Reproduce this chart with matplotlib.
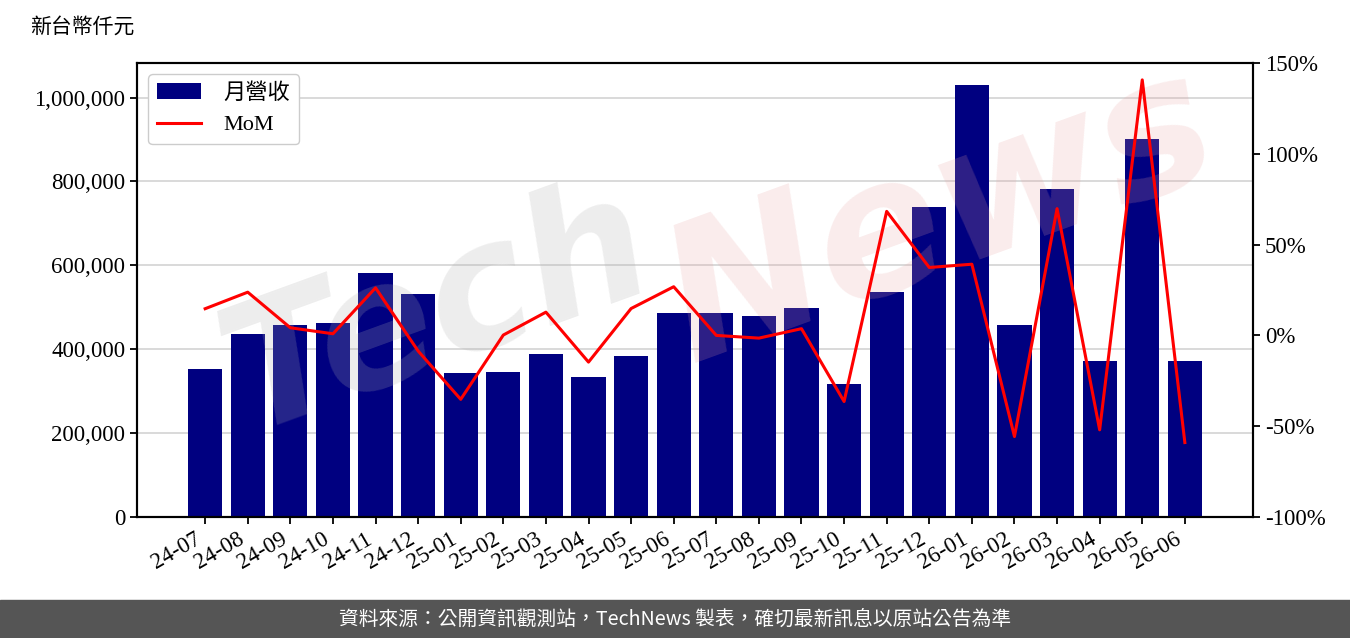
import numpy as np
import matplotlib
matplotlib.use("Agg")
import matplotlib.pyplot as plt
from matplotlib.ticker import FuncFormatter

plt.rcParams['font.family'] = ['Liberation Serif', 'Noto Sans CJK TC']

months = ["24-07", "24-08", "24-09", "24-10", "24-11", "24-12",
          "25-01", "25-02", "25-03", "25-04", "25-05", "25-06",
          "25-07", "25-08", "25-09", "25-10", "25-11", "25-12",
          "26-01", "26-02", "26-03", "26-04", "26-05", "26-06"]

# monthly revenue, thousand NTD
revenue = [352000, 436000, 457000, 462000, 583000, 531000,
           343000, 345000, 388000, 333000, 383000, 486000,
           486000, 479000, 498000, 317000, 536000, 738000,
           1031000, 457000, 782000, 371000, 902000, 371000]

# month over month change, %
mom = [14.7, 23.8, 4.2, 0.9, 26.2, -8.6,
       -35.2, 0.2, 12.8, -14.7, 14.8, 26.8,
       0.0, -1.5, 3.7, -36.4, 68.3, 37.4,
       39.2, -55.7, 69.8, -52.0, 140.7, -59.0]

fig = plt.figure(figsize=(13.5, 6.38), dpi=100)
ax = fig.add_axes([137 / 1350, 1 - 517 / 638, (1253 - 137) / 1350, (517 - 63) / 638])
ax2 = ax.twinx()

x = np.arange(len(months))
bars = ax.bar(x, revenue, width=0.8, color="#000080", label="月營收", zorder=2)
line, = ax2.plot(x, mom, color="red", lw=2.2, label="MoM", zorder=3)

ax.set_xlim(-1.6, len(months) + 0.6)
ax.set_ylim(0, max(revenue) * 1.05)
ax2.set_ylim(-100, 150)

ax.set_yticks([0, 200000, 400000, 600000, 800000, 1000000])
ax.yaxis.set_major_formatter(FuncFormatter(lambda v, p: f"{int(v):,}"))
ax2.set_yticks([-100, -50, 0, 50, 100, 150])
ax2.yaxis.set_major_formatter(FuncFormatter(lambda v, p: f"{int(v)}%"))

ax.set_xticks(x)
ax.set_xticklabels(months, rotation=30, ha="right")
ax.grid(axis="y", color="#d3d3d3", lw=1.2, zorder=0)
ax.set_axisbelow(True)

for a in (ax, ax2):
    a.tick_params(labelsize=16.5, width=1.3, length=5)
    for s in a.spines.values():
        s.set_linewidth(1.5)

# watermark
ax.text(0.27, 0.45, "Tech", transform=ax.transAxes, fontsize=125, fontstyle="italic",
        fontweight="bold", family="DejaVu Sans", color="#b0b0b0", alpha=0.22,
        rotation=20, ha="center", va="center", zorder=4)
ax.text(0.72, 0.66, "News", transform=ax.transAxes, fontsize=135, fontstyle="italic",
        fontweight="bold", family="DejaVu Sans", color="#e8a0a0", alpha=0.2,
        rotation=20, ha="center", va="center", zorder=4)

ax.legend([bars, line], ["月營收", "MoM"], loc="upper left", fontsize=16,
          framealpha=1, edgecolor="#cccccc", handlelength=2.0, borderaxespad=0.5,
          handletextpad=1.0)

fig.text(30 / 1350, 1 - 28 / 638, "新台幣仟元", fontsize=15, ha="left", va="center")

# footer band
fig.patches.append(plt.Rectangle((0, 0), 1, 38 / 638, transform=fig.transFigure,
                                 color="#555555", zorder=0))
fig.text(0.5, 19 / 638, "資料來源：公開資訊觀測站，TechNews 製表，確切最新訊息以原站公告為準",
         color="white", fontsize=14.2, ha="center", va="center",
         family=["Noto Sans CJK TC", "DejaVu Sans"])

fig.savefig("out.png", dpi=100)
